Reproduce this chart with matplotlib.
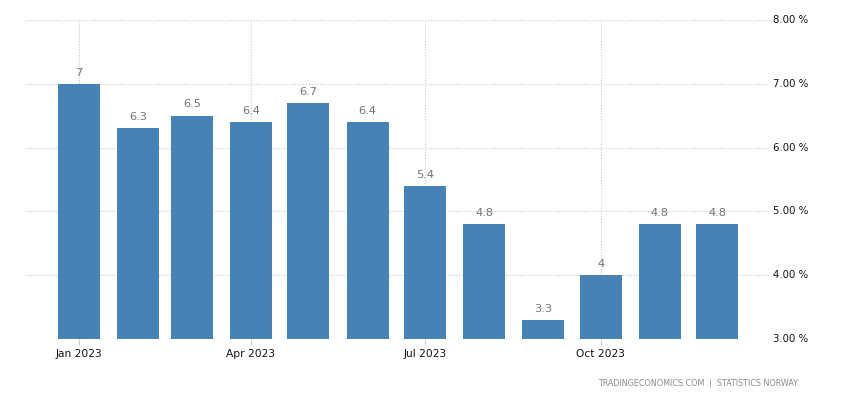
import matplotlib
matplotlib.use("Agg")
import matplotlib.pyplot as plt
import matplotlib.dates as mdates
import numpy as np
import datetime as dt

months = ["2023-01-01", "2023-02-01", "2023-03-01", "2023-04-01", "2023-05-01", "2023-06-01",
          "2023-07-01", "2023-08-01", "2023-09-01", "2023-10-01", "2023-11-01", "2023-12-01"]
values = [7, 6.3, 6.5, 6.4, 6.7, 6.4, 5.4, 4.8, 3.3, 4, 4.8, 4.8]
value_labels = ["7", "6.3", "6.5", "6.4", "6.7", "6.4", "5.4", "4.8", "3.3", "4", "4.8", "4.8"]
tick_dates = ["2023-01-01", "2023-04-01", "2023-07-01", "2023-10-01"]
tick_labels = ["Jan 2023", "Apr 2023", "Jul 2023", "Oct 2023"]
y_ticks = [3, 4, 5, 6, 7, 8]

dates = [dt.datetime.strptime(m, "%Y-%m-%d") for m in months]
xd = mdates.date2num(dates)

fig = plt.figure(figsize=(8.5, 4), dpi=100)
ax = fig.add_axes([25/850, 61/400, 745/850, 319/400])

bar_color = "#4682B4"
ax.bar(xd, [v - 3 for v in values], bottom=3, width=22, color=bar_color, zorder=3)

for x, v, lab in zip(xd, values, value_labels):
    ax.annotate(lab, (x, v), xytext=(0, 4.5), textcoords="offset points",
                ha="center", va="bottom", fontsize=8.2, color="#737373", zorder=4)

x0 = mdates.date2num(dt.datetime(2023, 1, 1))
ax.set_xlim(x0 - 28.3, x0 + 361.6)
ax.set_ylim(3, 8)

tx = mdates.date2num([dt.datetime.strptime(t, "%Y-%m-%d") for t in tick_dates])
ax.set_xticks(tx)
ax.set_xticklabels(tick_labels, fontsize=7.7, color="#111111")
ax.tick_params(axis="x", length=4, width=0.8, color="#cccccc", pad=3)

ax.yaxis.tick_right()
ax.set_yticks(y_ticks)
ax.set_yticklabels([f"{t:.2f} %" for t in y_ticks], fontsize=7.3, color="#111111")
ax.tick_params(axis="y", length=0, pad=2)
for lab in ax.get_yticklabels():
    lab.set_verticalalignment("center")

for s in ax.spines.values():
    s.set_visible(False)

ax.grid(True, axis="both", linestyle=(0, (1, 1.5)), color="#c8c8c8", linewidth=0.8, zorder=0)
ax.set_axisbelow(True)

fig.text(798/850, 1 - 383/400, "TRADINGECONOMICS.COM  |  STATISTICS NORWAY",
         ha="right", va="center", fontsize=5.8, color="#8a8a8a")

fig.savefig("out.png", dpi=100)
